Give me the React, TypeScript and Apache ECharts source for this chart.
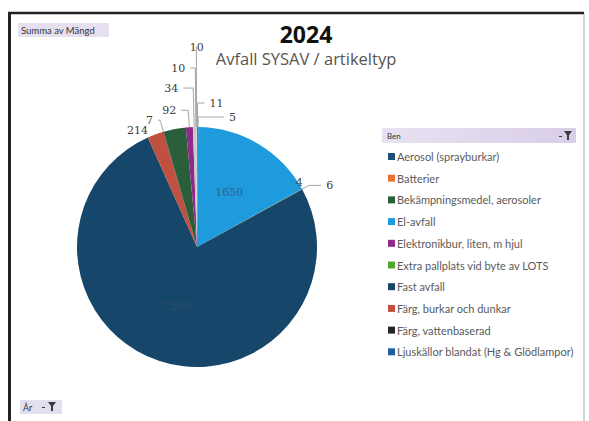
import React, { useEffect, useRef } from "react";
import * as echarts from "echarts";

// Slices in clockwise order from 12 o'clock (as drawn in the reference)
const sliceNames = [
  "Aerosol (sprayburkar)",
  "Batterier",
  "El-avfall",
  "Extra pallplats vid byte av LOTS",
  "Ljuskällor blandat (Hg & Glödlampor)",
  "Fast avfall",
  "Färg, burkar och dunkar",
  "Färg, vattenbaserad",
  "Bekämpningsmedel, aerosoler",
  "Elektronikbur, liten, m hjul",
  "Övrigt 1",
  "Övrigt 2",
  "Övrigt 3",
];
const sliceValues = [11, 5, 1650, 4, 6, 7500, 214, 7, 294, 92, 34, 10, 10];
const sliceColors = [
  "#1F4E79",
  "#E97132",
  "#1E9BDC",
  "#4EA72E",
  "#1F5FA0",
  "#17466B",
  "#C0503F",
  "#262626",
  "#2A5E3A",
  "#8E2A8A",
  "#C8C8C8",
  "#A5A5A5",
  "#D0D0D0",
];
// Legend entries as listed in the reference
const legendNames = [
  "Aerosol (sprayburkar)",
  "Batterier",
  "Bekämpningsmedel, aerosoler",
  "El-avfall",
  "Elektronikbur, liten, m hjul",
  "Extra pallplats vid byte av LOTS",
  "Fast avfall",
  "Färg, burkar och dunkar",
  "Färg, vattenbaserad",
  "Ljuskällor blandat (Hg & Glödlampor)",
];

// styling: label colours for inside labels, leader lengths [radial, horizontal]
const insideLabels: Record<string, string> = {
  "El-avfall": "#2F5F8F",
  "Fast avfall": "#2E4C68",
};
const hiddenLabels = ["Bekämpningsmedel, aerosoler"];
const leaderLength: Record<string, [number, number]> = {
  "Aerosol (sprayburkar)": [24, 7],
  "Batterier": [10, 26],
  "Extra pallplats vid byte av LOTS": [1, 0],
  "Ljuskällor blandat (Hg & Glödlampor)": [8, 12],
  "Färg, burkar och dunkar": [4, 1],
  "Färg, vattenbaserad": [12, 2],
  "Elektronikbur, liten, m hjul": [17, 7],
  "Övrigt 1": [39, 10],
  "Övrigt 2": [59, 5],
  "Övrigt 3": [80, 0.5],
};
const labelOffsets: Record<string, [number, number]> = {
  "Extra pallplats vid byte av LOTS": [-12, -6],
  "Övrigt 3": [13, 0],
};

const funnel = (x: number, y: number) => ({
  type: "polygon",
  shape: {
    points: [
      [x, y],
      [x + 8, y],
      [x + 5, y + 4],
      [x + 5, y + 9],
      [x + 3, y + 9],
      [x + 3, y + 4],
    ],
  },
  style: { fill: "#3a3a3a" },
});

export default function App() {
  const ref = useRef<HTMLDivElement>(null);
  useEffect(() => {
    if (!ref.current) return;
    const chart = echarts.init(ref.current, undefined, { renderer: "svg" });
    const data = sliceNames.map((name, i) => {
      const item: any = {
        name,
        value: sliceValues[i],
        itemStyle: { color: sliceColors[i] },
      };
      if (insideLabels[name]) {
        item.label = { position: "inside", color: insideLabels[name] };
        item.labelLine = { show: false };
      }
      if (hiddenLabels.includes(name)) {
        item.label = { show: false };
        item.labelLine = { show: false };
      }
      if (leaderLength[name] !== undefined) {
        const [l1, l2] = leaderLength[name];
        item.labelLine = { length: l1, length2: l2 };
        if (l1 + l2 < 6) item.labelLine.show = false;
      }
      if (labelOffsets[name]) {
        item.label = { offset: labelOffsets[name] };
      }
      return item;
    });
    chart.setOption({
      animation: false,
      backgroundColor: "#ffffff",
      title: {
        text: "2024",
        subtext: "Avfall SYSAV / artikeltyp",
        left: 301,
        top: 17,
        textAlign: "center",
        itemGap: 5,
        textStyle: {
          fontSize: 23,
          fontWeight: "bold",
          color: "#111",
          fontFamily: "Open Sans",
        },
        subtextStyle: { fontSize: 16.5, color: "#555", fontFamily: "Open Sans" },
      },
      legend: {
        data: legendNames,
        orient: "vertical",
        left: 383,
        top: 146,
        icon: "rect",
        itemWidth: 7,
        itemHeight: 7,
        itemGap: 10.7,
        textStyle: { fontSize: 11, color: "#5a5a5a", fontFamily: "Lato", padding: [0, 0, 0, -3] },
        selectedMode: false,
      },
      graphic: [
        { type: "line", shape: { x1: 8, y1: 13, x2: 584, y2: 13 }, style: { stroke: "#222", lineWidth: 2.5 } },
        { type: "line", shape: { x1: 9.5, y1: 12, x2: 9.5, y2: 421 }, style: { stroke: "#222", lineWidth: 3 } },
        { type: "line", shape: { x1: 584, y1: 14, x2: 584, y2: 421 }, style: { stroke: "#c4c4c4", lineWidth: 1.5 } },
        {
          type: "rect",
          shape: { x: 18, y: 23, width: 91, height: 14 },
          style: { fill: "#e6dff0" },
        },
        {
          type: "text",
          x: 21,
          y: 30,
          style: { text: "Summa av Mängd", fontSize: 9.5, fill: "#333", verticalAlign: "middle", fontFamily: "Lato" },
        },
        {
          type: "rect",
          shape: { x: 382, y: 128, width: 194, height: 15 },
          style: {
            fill: new echarts.graphic.LinearGradient(0, 0, 1, 0, [
              { offset: 0, color: "#e9e2f2" },
              { offset: 1, color: "#d9cde8" },
            ]),
          },
        },
        {
          type: "text",
          x: 387,
          y: 135.5,
          style: { text: "Ben", fontSize: 8, fill: "#333", verticalAlign: "middle", fontFamily: "Lato" },
        },
        { type: "rect", shape: { x: 559, y: 136, width: 3, height: 1 }, style: { fill: "#3a3a3a" } },
        funnel(564, 131),
        {
          type: "rect",
          shape: { x: 20, y: 400, width: 42, height: 14 },
          style: { fill: "#e4dfee" },
        },
        {
          type: "text",
          x: 23,
          y: 407,
          style: { text: "År", fontSize: 9, fill: "#333", verticalAlign: "middle", fontFamily: "Lato" },
        },
        { type: "rect", shape: { x: 42, y: 407, width: 3, height: 1 }, style: { fill: "#3a3a3a" } },
        funnel(48, 402),
      ],
      series: [
        {
          type: "pie",
          center: [197, 247],
          radius: 120,
          startAngle: 90,
          clockwise: true,
          avoidLabelOverlap: false,
          minShowLabelAngle: 0,
          labelLayout: { hideOverlap: false },
          data,
          label: {
            show: true,
            formatter: "{c}",
            fontSize: 11,
            color: "#404040",
            fontFamily: "DejaVu Serif",
          },
          labelLine: {
            show: true,
            length: 24,
            length2: 6,
            lineStyle: { color: "#a6a6a6", width: 1 },
          },
          itemStyle: { borderWidth: 0 },
          emphasis: { disabled: true },
        },
      ],
    });
    return () => chart.dispose();
  }, []);
  return (
    <div
      ref={ref}
      style={{ position: "fixed", left: 0, top: 0, width: 589, height: 421 }}
    />
  );
}
